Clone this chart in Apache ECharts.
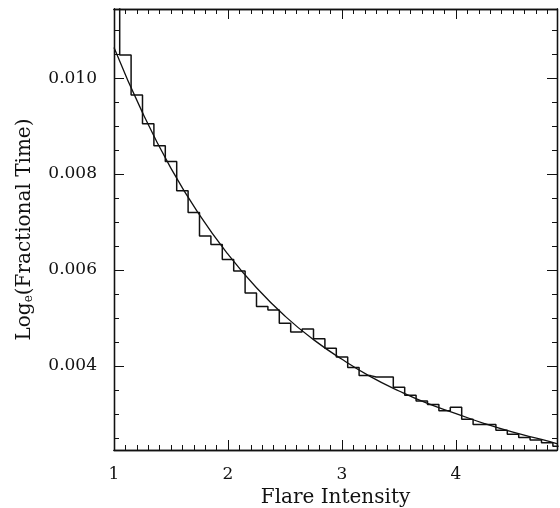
<!DOCTYPE html>
<html>
<head>
<meta charset="utf-8">
<script src="https://cdn.jsdelivr.net/npm/echarts@6/dist/echarts.min.js"></script>
<style>html,body{margin:0;padding:0;background:#fff}#c{width:560px;height:508px}</style>
</head>
<body>
<div id="c"></div>
<script>
// Histogram (step) data: bin centres and values
var histX = [1.0,1.1,1.2,1.3,1.4,1.5,1.6,1.7,1.8,1.9,2.0,2.1,2.2,2.3,2.4,2.5,2.6,2.7,2.8,2.9,3.0,3.1,3.2,3.3,3.4,3.5,3.6,3.7,3.8,3.9,4.0,4.1,4.2,4.3,4.4,4.5,4.6,4.7,4.8,4.9];
var histY = [0.0120,0.01048,0.00965,0.00905,0.00859,0.00826,0.00765,0.00720,0.00671,0.00653,0.00622,0.00598,0.00552,0.00524,0.00517,0.00489,0.00471,0.00477,0.00457,0.00437,0.00419,0.00397,0.00380,0.00377,0.00377,0.00356,0.00339,0.00327,0.00320,0.00307,0.00314,0.00289,0.00278,0.00278,0.00266,0.00258,0.00251,0.00246,0.00240,0.00233];
// Fitted curve
var curveX = [1.0,1.25,1.5,1.75,2.0,2.25,2.5,2.75,3.0,3.25,3.5,3.75,4.0,4.25,4.5,4.75,4.89];
var curveY = [0.01064,0.00928,0.00812,0.00715,0.00633,0.00563,0.00504,0.00455,0.00414,0.00378,0.00348,0.00322,0.00301,0.00280,0.00262,0.00247,0.00238];
// Tick labels
var xTickLabels = [1,2,3,4];
var yTickLabels = [0.004,0.006,0.008,0.010];
var yMinorTicks = [0.0025,0.003,0.0035,0.0045,0.005,0.0055,0.0065,0.007,0.0075,0.0085,0.009,0.0095,0.0105,0.011];

var xMin = 1, xMax = 4.886, yMin = 0.00225, yMax = 0.01144;
var xMinorTicks = [];
for (var i = 11; i <= 48; i++) { if (i % 10 !== 0) xMinorTicks.push(i / 10); }

var FONT = 'DejaVu Serif';
var INK = '#111';

function xAx(pos, major, labels) {
  return {
    type: 'value', position: pos, min: xMin, max: xMax,
    axisLine: {show: true, onZero: false, lineStyle: {color: INK, width: 1.3}},
    axisTick: {show: true, inside: true, length: major ? 10 : 5, customValues: major ? xTickLabels : xMinorTicks, lineStyle: {color: INK, width: 1}},
    axisLabel: {show: labels, customValues: xTickLabels, margin: 16, fontFamily: FONT, fontSize: 17, color: INK,
      formatter: function (v) { return String(v); }},
    splitLine: {show: false}
  };
}
function yAx(pos, major, labels) {
  return {
    type: 'value', position: pos, min: yMin, max: yMax,
    axisLine: {show: true, onZero: false, lineStyle: {color: INK, width: 1.3}},
    axisTick: {show: true, inside: true, length: major ? 10 : 5, customValues: major ? yTickLabels : yMinorTicks, lineStyle: {color: INK, width: 1}},
    axisLabel: {show: labels, customValues: yTickLabels, margin: 17, fontFamily: FONT, fontSize: 17, color: INK,
      formatter: function (v) { return v.toFixed(3); }},
    splitLine: {show: false}
  };
}

var xa0 = xAx('bottom', true, true);
xa0.name = 'Flare Intensity';
xa0.nameLocation = 'middle';
xa0.nameGap = 38;
xa0.nameTextStyle = {fontFamily: FONT, fontSize: 20, color: INK};
var ya0 = yAx('left', true, true);
ya0.name = 'Log{s|e}(Fractional Time)';
ya0.nameLocation = 'middle';
ya0.nameGap = 79;
ya0.nameRotate = 90;
ya0.nameTextStyle = {fontFamily: FONT, fontSize: 20, color: INK,
  rich: {s: {fontFamily: FONT, fontSize: 12, color: INK, verticalAlign: 'bottom', padding: [9, 0, 0, 0]}}};

var histData = histX.map(function (x, i) { return [x, histY[i]]; });
var curveData = curveX.map(function (x, i) { return [x, curveY[i]]; });

var chart = echarts.init(document.getElementById('c'), null, {renderer: 'canvas'});
chart.setOption({
  animation: false,
  backgroundColor: '#fff',
  grid: {left: 114, right: 3, top: 9, bottom: 58, outerBoundsMode: 'none', containLabel: false},
  xAxis: [xa0, xAx('bottom', false, false), xAx('top', true, false), xAx('top', false, false)],
  yAxis: [ya0, yAx('left', false, false), yAx('right', true, false), yAx('right', false, false)],
  series: [
    {type: 'line', data: histData, step: 'middle', showSymbol: false, clip: true,
     lineStyle: {color: INK, width: 1.5}, xAxisIndex: 0, yAxisIndex: 0},
    {type: 'line', data: curveData, smooth: true, showSymbol: false, clip: true,
     lineStyle: {color: INK, width: 1.3}, xAxisIndex: 0, yAxisIndex: 0}
  ]
});
</script>
</body>
</html>
